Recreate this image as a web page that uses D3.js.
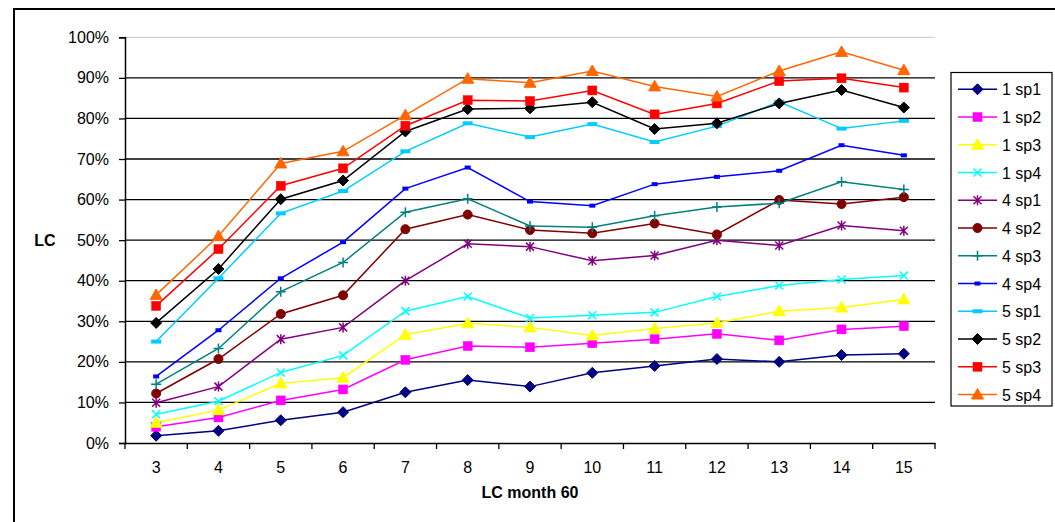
<!DOCTYPE html>
<html>
<head>
<meta charset="utf-8">
<script src="https://cdn.jsdelivr.net/npm/d3@7"></script>
<style>
  html, body { margin: 0; padding: 0; background: #fff; }
  svg { display: block; font-family: "Liberation Sans", Arial, sans-serif; }
</style>
</head>
<body>
<svg id="chart" width="1055" height="522"></svg>
<script>
// ---- data ----
const categories = ["3","4","5","6","7","8","9","10","11","12","13","14","15"];
const seriesNames = ["1 sp1","1 sp2","1 sp3","1 sp4","4 sp1","4 sp2","4 sp3","4 sp4","5 sp1","5 sp2","5 sp3","5 sp4"];
const s1sp1 = [1.8, 3.0, 5.6, 7.6, 12.5, 15.5, 13.9, 17.3, 19.0, 20.7, 20.0, 21.7, 22.0];
const s1sp2 = [4.0, 6.3, 10.5, 13.2, 20.5, 23.9, 23.6, 24.6, 25.6, 26.9, 25.3, 28.0, 28.8];
const s1sp3 = [5.0, 8.1, 14.7, 16.1, 26.7, 29.5, 28.5, 26.5, 28.2, 29.6, 32.5, 33.4, 35.4];
const s1sp4 = [7.1, 10.3, 17.4, 21.6, 32.5, 36.1, 30.8, 31.5, 32.2, 36.1, 38.8, 40.3, 41.3];
const s4sp1 = [9.9, 13.9, 25.6, 28.5, 40.0, 49.1, 48.4, 44.9, 46.2, 50.0, 48.7, 53.6, 52.3];
const s4sp2 = [12.2, 20.7, 31.8, 36.4, 52.7, 56.3, 52.5, 51.7, 54.1, 51.4, 59.9, 58.9, 60.6];
const s4sp3 = [14.5, 23.3, 37.3, 44.5, 56.9, 60.2, 53.5, 53.2, 56.0, 58.2, 59.1, 64.4, 62.5];
const s4sp4 = [16.4, 27.8, 40.6, 49.5, 62.7, 67.9, 59.5, 58.5, 63.8, 65.6, 67.1, 73.4, 70.9];
const s5sp1 = [25.0, 40.6, 56.6, 62.1, 71.9, 78.8, 75.4, 78.6, 74.2, 78.1, 84.1, 77.5, 79.4];
const s5sp2 = [29.6, 42.9, 60.1, 64.7, 76.8, 82.3, 82.5, 84.0, 77.4, 78.8, 83.7, 87.0, 82.7];
const s5sp3 = [33.8, 47.8, 63.4, 67.7, 78.2, 84.5, 84.3, 86.9, 81.0, 83.7, 89.2, 89.9, 87.6];
const s5sp4 = [36.5, 51.0, 68.9, 71.9, 80.8, 89.8, 88.8, 91.7, 87.9, 85.4, 91.7, 96.4, 91.9];
const yTicks = [0,10,20,30,40,50,60,70,80,90,100];
const yTitle = "LC";
const xTitle = "LC month 60";

// ---- styles ----
const seriesValues = [s1sp1,s1sp2,s1sp3,s1sp4,s4sp1,s4sp2,s4sp3,s4sp4,s5sp1,s5sp2,s5sp3,s5sp4];
const colors = ["#000080","#FF00FF","#FFFF00","#00FFFF","#800080","#800000","#008080","#0000FF","#00CCFF","#000000","#FF0000","#FF6600"];
const markers = ["diamond","square","triangle","x","star","circle","plus","dash","longdash","diamond","square","triangle"];

const svg = d3.select("#chart");
const pL = 125, pR = 935, pT = 37.3, pB = 443;

// outer chart border
svg.append("rect").attr("x",14).attr("y",9).attr("width",1100).attr("height",600)
  .attr("fill","none").attr("stroke","#000").attr("stroke-width",2);

const x = d3.scaleBand().domain(categories).range([pL, pR]).padding(0);
const y = d3.scaleLinear().domain([0,100]).range([pB, pT]);

// gridlines
svg.append("g").selectAll("line").data(yTicks.filter(t => t > 0)).join("line")
  .attr("x1", pL).attr("x2", pR)
  .attr("y1", d => y(d)).attr("y2", d => y(d))
  .attr("stroke", d => d === 100 ? "#C8C8C8" : "#000")
  .attr("stroke-width", d => d === 100 ? 1 : 1.3);

// y axis
const yAxis = svg.append("g").attr("transform", `translate(${pL},0)`)
  .call(d3.axisLeft(y).tickValues(yTicks).tickFormat(d => d + "%").tickSize(6).tickPadding(10));
yAxis.select(".domain").attr("stroke","#000").attr("stroke-width",1.5);
yAxis.selectAll(".tick line").attr("stroke","#000").attr("stroke-width",1.3);
yAxis.selectAll("text").attr("font-size", 16).attr("fill","#000").attr("font-family","Liberation Sans, Arial, sans-serif");

// x axis
const xAxis = svg.append("g").attr("transform", `translate(0,${pB})`)
  .call(d3.axisBottom(x).tickSize(0).tickPadding(19));
xAxis.select(".domain").attr("stroke","#000").attr("stroke-width",1.5);
xAxis.selectAll("text").attr("font-size", 16).attr("fill","#000").attr("font-family","Liberation Sans, Arial, sans-serif");
// category boundary ticks
const bounds = categories.map(c => x(c)).concat([x(categories[categories.length-1]) + x.bandwidth()]);
svg.append("g").selectAll("line").data(bounds).join("line")
  .attr("x1", d => d).attr("x2", d => d).attr("y1", pB).attr("y2", pB + 6)
  .attr("stroke","#000").attr("stroke-width",1.3);

// titles
svg.append("text").attr("x", 45).attr("y", y(50) + 6).attr("text-anchor","middle")
  .attr("font-size",16).attr("font-weight","bold").text(yTitle);
svg.append("text").attr("x", (pL+pR)/2).attr("y", 498).attr("text-anchor","middle")
  .attr("font-size",16).attr("font-weight","bold").text(xTitle);

// marker drawing
function drawMarker(g, type, color) {
  switch (type) {
    case "diamond":
      g.append("path").attr("d","M0,-5.5L5.5,0L0,5.5L-5.5,0Z").attr("fill",color).attr("stroke",color); break;
    case "square":
      g.append("rect").attr("x",-4.5).attr("y",-4.5).attr("width",9).attr("height",9).attr("fill",color).attr("stroke",color).attr("stroke-width",0.5); break;
    case "triangle":
      g.append("path").attr("d","M0,-6L6,4.5L-6,4.5Z").attr("fill",color).attr("stroke",color); break;
    case "circle":
      g.append("circle").attr("r",4.5).attr("fill",color).attr("stroke",color); break;
    case "x":
      g.append("path").attr("d","M-4,-4L4,4M-4,4L4,-4").attr("stroke",color).attr("stroke-width",1.5).attr("fill","none"); break;
    case "star":
      g.append("path").attr("d","M-4,-4L4,4M-4,4L4,-4M0,-5L0,5").attr("stroke",color).attr("stroke-width",1.5).attr("fill","none"); break;
    case "plus":
      g.append("path").attr("d","M-5,0L5,0M0,-5L0,5").attr("stroke",color).attr("stroke-width",1.5).attr("fill","none"); break;
    case "dash":
      g.append("rect").attr("x",-3).attr("y",-2).attr("width",6).attr("height",4).attr("fill",color); break;
    case "longdash":
      g.append("rect").attr("x",-5).attr("y",-2).attr("width",10).attr("height",4).attr("fill",color); break;
  }
}

// series
const line = d3.line().x((d,i) => x(categories[i]) + x.bandwidth()/2).y(d => y(d));
const plot = svg.append("g");
seriesValues.forEach((vals, si) => {
  plot.append("path").datum(vals).attr("d", line).attr("fill","none")
    .attr("stroke", colors[si]).attr("stroke-width", 1.5);
});
seriesValues.forEach((vals, si) => {
  vals.forEach((v, i) => {
    const g = plot.append("g").attr("transform", `translate(${x(categories[i]) + x.bandwidth()/2},${y(v)})`);
    drawMarker(g, markers[si], colors[si]);
  });
});

// legend
const lg = svg.append("g");
lg.append("rect").attr("x",951).attr("y",72.5).attr("width",101).attr("height",333.5)
  .attr("fill","#fff").attr("stroke","#000").attr("stroke-width",1.2);
const ly = d3.scalePoint().domain(seriesNames).range([89.3, 394.5]);
seriesNames.forEach((name, si) => {
  const yy = ly(name);
  lg.append("line").attr("x1",958).attr("x2",997).attr("y1",yy).attr("y2",yy)
    .attr("stroke",colors[si]).attr("stroke-width",1.5);
  drawMarker(lg.append("g").attr("transform",`translate(977.5,${yy})`), markers[si], colors[si]);
  lg.append("text").attr("x",1002).attr("y",yy+6).attr("font-size",16).text(name);
});
</script>
</body>
</html>
